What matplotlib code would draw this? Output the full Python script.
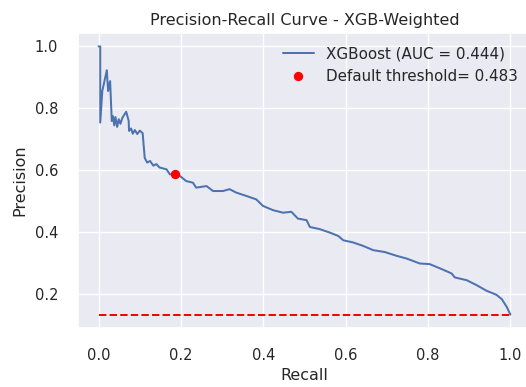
"""Precision-recall curve for the weighted XGBoost model."""

import matplotlib
matplotlib.use("Agg")
import matplotlib.pyplot as plt
import seaborn as sns

# ---------------------------------------------------------------------------
# Data
# ---------------------------------------------------------------------------

recall = [
    0.000, 0.004, 0.004, 0.009, 0.020, 0.023, 0.028, 0.032, 0.035, 0.038,
    0.041, 0.045, 0.049, 0.053, 0.058, 0.067, 0.073, 0.074, 0.079, 0.083,
    0.088, 0.094, 0.100, 0.107, 0.112, 0.118, 0.125, 0.133, 0.140, 0.148,
    0.165, 0.173, 0.185, 0.197, 0.213, 0.229, 0.237, 0.262, 0.278, 0.302,
    0.318, 0.334, 0.359, 0.383, 0.399, 0.424, 0.448, 0.468, 0.484, 0.505,
    0.513, 0.537, 0.561, 0.582, 0.594, 0.618, 0.642, 0.667, 0.695, 0.723,
    0.748, 0.780, 0.804, 0.833, 0.857, 0.865, 0.894, 0.918, 0.942, 0.966,
    0.979, 0.991, 1.000,
]
precision = [
    1.000, 1.000, 0.754, 0.856, 0.923, 0.856, 0.888, 0.759, 0.775, 0.745,
    0.772, 0.740, 0.765, 0.750, 0.770, 0.789, 0.760, 0.727, 0.735, 0.718,
    0.730, 0.717, 0.728, 0.720, 0.640, 0.625, 0.630, 0.615, 0.620, 0.609,
    0.603, 0.587, 0.587, 0.582, 0.565, 0.560, 0.544, 0.549, 0.533, 0.533,
    0.539, 0.528, 0.517, 0.506, 0.485, 0.471, 0.463, 0.466, 0.444, 0.439,
    0.417, 0.410, 0.399, 0.388, 0.374, 0.367, 0.356, 0.342, 0.336, 0.324,
    0.315, 0.299, 0.297, 0.281, 0.267, 0.254, 0.245, 0.229, 0.211, 0.198,
    0.184, 0.159, 0.134,
]

auc_score = 0.444
default_threshold = 0.483
default_point = (0.185, 0.587)   # (recall, precision) at the default threshold
no_skill = 0.134                 # positive class rate

# ---------------------------------------------------------------------------
# Plot
# ---------------------------------------------------------------------------

sns.set_theme()

DPI = 96
fig = plt.figure(figsize=(526 / DPI, 387 / DPI), dpi=DPI)
ax = fig.add_axes([78 / 526, 59 / 387, 453 / 526, 295 / 387])

ax.plot(recall, precision, label=f"XGBoost (AUC = {auc_score:.3f})")
ax.plot([0, 1], [no_skill, no_skill], linestyle="--", color="red")
ax.plot(default_point[0], default_point[1], "o", color="red",
        label=f"Default threshold= {default_threshold:.3f}")

ax.set_xlim(-0.05, 1.05)
ax.tick_params(axis="both", labelsize=11, pad=9)
ax.set_title("Precision-Recall Curve - XGB-Weighted", fontsize=12)
ax.set_xlabel("Recall", fontsize=12, labelpad=4)
ax.set_ylabel("Precision", fontsize=12, labelpad=5)
ax.legend(loc="upper right", frameon=False, fontsize=11.3)

fig.savefig("out.png", dpi=DPI)
